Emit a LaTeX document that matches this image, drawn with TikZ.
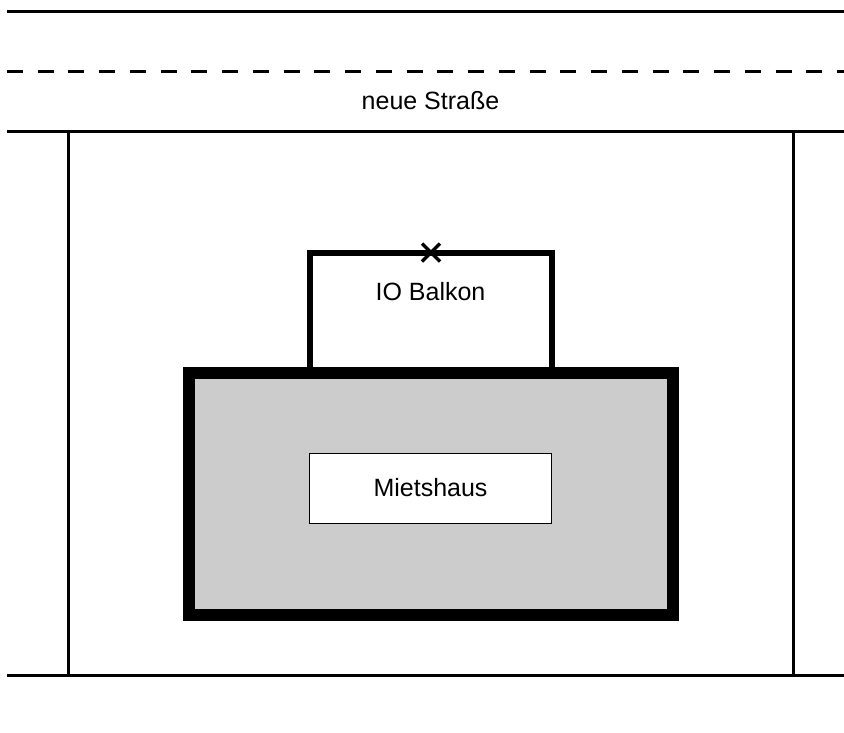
\documentclass[tikz,border=0pt]{standalone}
\usepackage{fontspec}
\setmainfont{Liberation Sans}
\tikzset{
  roadline/.style={line width=3pt,black},
  roaddash/.style={line width=3pt,black,dash pattern=on 16pt off 14.74pt},
  plotline/.style={line width=3pt,black},
  balcony/.style={line width=6pt,black,fill=white},
  house/.style={line width=12pt,black,fill=black!20,line join=miter},
  label/.style={font=\fontsize{25}{30}\selectfont,text=black,inner sep=0pt},
  namebox/.style={draw=black,line width=0.8pt,fill=white,minimum width=242pt,minimum height=70pt,inner sep=0pt,font=\fontsize{25}{30}\selectfont},
  crossmark/.style={line width=3.4pt,black}
}
\begin{document}
\begin{tikzpicture}[x=1pt,y=-1pt]
\useasboundingbox (0,0) rectangle (844,732);
\fill[white] (0,0) rectangle (844,732);
\draw[roadline] (7,11) -- (844,11);
\draw[roaddash] (7,71.5) -- (844,71.5);
\node[label] (street) at (430.5,101) {neue Straße};
\draw[plotline] (68,131.5) -- (68,675);
\draw[plotline] (793,131.5) -- (793,675);
\draw[roadline] (7,131.5) -- (844,131.5);
\draw[roadline] (7,675) -- (844,675);
\draw[balcony] (310,368) -- (310,252.5) -- (552,252.5) -- (552,368);
\draw[house] (188.5,373) rectangle (673,615);
\node[namebox] (name) at (430.5,488) {Mietshaus};
\node[label] (balc) at (430.5,292) {IO Balkon};
\draw[crossmark] (422,243.5) -- (440,261.5);
\draw[crossmark] (440,243.5) -- (422,261.5);
\end{tikzpicture}
\end{document}
